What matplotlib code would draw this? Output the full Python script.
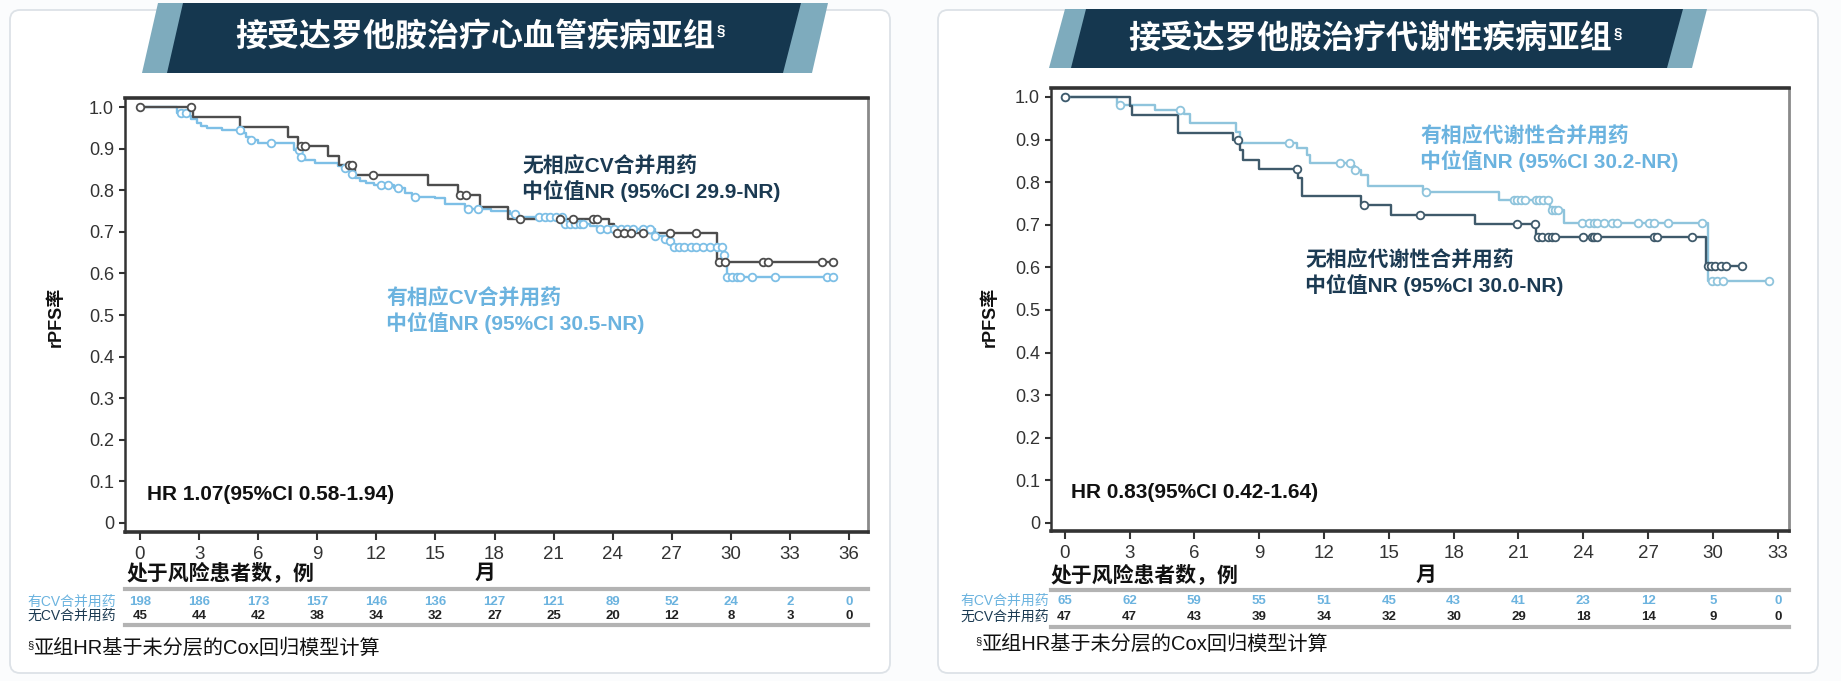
import numpy as np
import matplotlib
matplotlib.use("Agg")
import matplotlib.pyplot as plt
from matplotlib.patches import FancyBboxPatch, Polygon
from matplotlib.transforms import blended_transform_factory

plt.rcParams['font.family'] = ['Liberation Sans', 'Noto Sans CJK SC', 'DejaVu Sans']

# ---------- 数据: 心血管疾病亚组 ----------
cv_yes_t = [0, 1.9, 2.45, 2.6, 2.9, 3.1, 3.4, 4.15, 5.15, 5.4, 5.6, 6.0, 7.8, 8.15, 8.4, 8.9,
            10.05, 10.25, 10.75, 10.9, 11.15, 11.45, 11.9, 12.9, 13.45, 13.8, 15.0, 15.5, 16.5,
            17.8, 18.8, 19.2, 21.5, 22.85, 23.2, 26.15, 26.65, 26.9, 27.0, 29.6, 29.7, 29.8]
cv_yes_s = [1.0, 0.987, 0.979, 0.971, 0.961, 0.955, 0.950, 0.946, 0.939, 0.929, 0.921, 0.914,
            0.898, 0.880, 0.873, 0.865, 0.859, 0.854, 0.840, 0.830, 0.822, 0.817, 0.813, 0.805,
            0.793, 0.785, 0.781, 0.768, 0.756, 0.750, 0.744, 0.735, 0.720, 0.714, 0.708, 0.690,
            0.684, 0.678, 0.664, 0.644, 0.632, 0.591]
cv_yes_cens = [2.1, 2.35, 5.1, 5.65, 6.65, 8.05, 8.2, 10.4, 10.75, 12.25, 12.6, 13.1, 13.95,
               16.65, 17.15, 19.05, 20.25, 20.55, 20.8, 21.1, 21.4, 21.6, 21.85, 22.1, 22.35,
               22.5, 23.35, 23.7, 24.05, 24.4, 24.7, 25.05, 25.55, 25.9, 26.15, 26.65, 26.9,
               27.1, 27.35, 27.6, 27.95, 28.25, 28.6, 28.95, 29.3, 29.55, 29.65, 29.8, 30.05,
               30.3, 30.45, 31.05, 32.25, 34.9, 35.2]

cv_no_t = [0, 2.7, 5.1, 7.5, 8.0, 9.55, 10.1, 10.9, 14.6, 16.15, 17.25, 18.7, 23.8, 24.05, 29.3]
cv_no_s = [1.0, 0.976, 0.952, 0.929, 0.906, 0.883, 0.860, 0.837, 0.812, 0.788, 0.760, 0.732,
           0.720, 0.698, 0.628]
cv_no_cens = [0, 2.6, 8.15, 8.4, 10.6, 10.75, 11.85, 16.25, 16.55, 19.3, 21.3, 22.0, 23.0,
              23.2, 24.2, 24.55, 24.95, 25.55, 26.9, 28.25, 29.4, 29.7, 31.65, 31.9, 34.6, 35.2]

cv_months = [0, 3, 6, 9, 12, 15, 18, 21, 24, 27, 30, 33, 36]
cv_risk_yes = [198, 186, 173, 157, 146, 136, 127, 121, 89, 52, 24, 2, 0]
cv_risk_no = [45, 44, 42, 38, 34, 32, 27, 25, 20, 12, 8, 3, 0]

# ---------- 数据: 代谢性疾病亚组 ----------
met_yes_t = [0, 2.4, 4.2, 5.5, 5.8, 7.95, 8.1, 10.75, 11.2, 11.35, 13.3, 13.45, 13.7, 14.05,
             16.6, 20.1, 22.45, 23.1, 29.75]
met_yes_s = [1.0, 0.982, 0.970, 0.961, 0.939, 0.917, 0.892, 0.880, 0.864, 0.845, 0.837, 0.829,
             0.817, 0.790, 0.776, 0.759, 0.735, 0.704, 0.568]
met_yes_cens = [0, 2.55, 5.35, 10.4, 12.75, 13.2, 13.45, 16.7, 20.8, 20.95, 21.1, 21.3, 21.8,
                21.95, 22.15, 22.35, 22.55, 22.7, 22.85, 23.95, 24.25, 24.5, 24.65, 24.95, 25.35,
                25.55, 26.55, 27.05, 27.25, 27.9, 29.5, 29.95, 30.2, 30.45, 32.6]

met_no_t = [0, 3.0, 3.1, 5.25, 7.8, 8.1, 8.25, 9.0, 10.8, 11.0, 13.7, 15.1, 19.0, 21.8, 29.7]
met_no_s = [1.0, 0.979, 0.957, 0.915, 0.900, 0.876, 0.853, 0.831, 0.810, 0.767, 0.747, 0.723,
            0.701, 0.672, 0.602]
met_no_cens = [0, 8.0, 10.75, 13.85, 16.45, 20.95, 21.75, 21.9, 22.1, 22.35, 22.55, 22.7, 24.0,
               24.4, 24.5, 24.65, 27.25, 27.4, 29.05, 29.75, 29.9, 30.1, 30.35, 30.6, 31.35]

met_months = [0, 3, 6, 9, 12, 15, 18, 21, 24, 27, 30, 33]
met_risk_yes = [65, 62, 59, 55, 51, 45, 43, 41, 23, 12, 5, 0]
met_risk_no = [47, 47, 43, 39, 34, 32, 30, 29, 18, 14, 9, 0]

y_ticks = [0, 0.1, 0.2, 0.3, 0.4, 0.5, 0.6, 0.7, 0.8, 0.9, 1.0]
y_labels = ['0', '0.1', '0.2', '0.3', '0.4', '0.5', '0.6', '0.7', '0.8', '0.9', '1.0']

# 颜色
NAVY = '#15374f'
STRIPE = '#7eabbd'
BLUE_TXT = '#6bb3df'
DARK_TXT = '#1b3a52'

W, H = 1841, 681
fig = plt.figure(figsize=(W / 100, H / 100), dpi=100)
fig.patch.set_facecolor('#fbfcfd')
bg = fig.add_axes([0, 0, 1, 1], zorder=0)
bg.set_xlim(0, W)
bg.set_ylim(H, 0)
bg.axis('off')
P = bg.transData
renderer = fig.canvas.get_renderer()


def card(x0, y0, x1, y1):
    bg.add_patch(FancyBboxPatch((x0, y0), x1 - x0, y1 - y0,
                                boxstyle='round,pad=0,rounding_size=10',
                                fc='white', ec='#dde2e7', lw=1.3))


def banner(light, dark, text, x_left, x_right, cy):
    bg.add_patch(Polygon(light, closed=True, fc=STRIPE, ec='none'))
    bg.add_patch(Polygon(dark, closed=True, fc=NAVY, ec='none'))
    t = bg.text((x_left + x_right) / 2, cy, text, color='white', fontsize=24,
                fontweight='bold', ha='center', va='center')
    # 按参考图的文字宽度调整字号
    bb = t.get_window_extent(renderer)
    t.set_fontsize(24 * (x_right - x_left) / bb.width)
    bb = t.get_window_extent(renderer)
    x1, y1 = P.inverted().transform((bb.x1, bb.y1))
    bg.text(x1 + 2, y1 + 9, '§', color='white', fontsize=11, fontweight='bold',
            ha='left', va='center')


def add_ax(x0, y0, x1, y1):
    return fig.add_axes([x0 / W, 1 - y1 / H, (x1 - x0) / W, (y1 - y0) / H], zorder=1)


def km(ax, t, s, cens, color, t_end):
    tt = list(t) + [t_end]
    ss = list(s) + [s[-1]]
    ax.step(tt, ss, where='post', color=color, lw=1.7, zorder=3)
    idx = np.searchsorted(t, cens, side='right') - 1
    ax.plot(cens, np.array(s)[idx], 'o', ms=5.5, mfc='white', mec=color, mew=1.3, zorder=4)


def style_ax(ax, xlim, ylim, months):
    ax.set_xlim(*xlim)
    ax.set_ylim(*ylim)
    ax.set_xticks(months)
    ax.set_xticklabels([str(m) for m in months])
    ax.set_yticks(y_ticks)
    ax.set_yticklabels(y_labels)
    ax.tick_params(axis='x', direction='out', length=6, width=1.5, colors='#333333',
                   labelsize=13.5, pad=4)
    ax.tick_params(axis='y', direction='out', length=4, width=1.5, colors='#333333',
                   labelsize=13, pad=4)
    for side in ['top', 'bottom']:
        ax.spines[side].set_linewidth(2.6)
        ax.spines[side].set_color('#333333')
    ax.spines['left'].set_linewidth(1.8)
    ax.spines['left'].set_color('#333333')
    ax.spines['right'].set_linewidth(2)
    ax.spines['right'].set_color('#8a8a8a')


def risk_table(ax, months, r_yes, r_no, y_lines, y_rows, label_x):
    lt = blended_transform_factory(ax.transAxes, P)
    for yl in y_lines:
        ax.plot([0, 1], [yl, yl], transform=lt, color='#b3b3b3', lw=3, clip_on=False)
    nt = blended_transform_factory(ax.transData, P)
    for m, a, b in zip(months, r_yes, r_no):
        ax.text(m, y_rows[0], str(a), transform=nt, ha='center', va='center',
                fontsize=9.5, fontweight='bold', color=BLUE_TXT, clip_on=False)
        ax.text(m, y_rows[1], str(b), transform=nt, ha='center', va='center',
                fontsize=9.5, fontweight='bold', color='#222222', clip_on=False)
    bg.text(label_x, y_rows[0], '有CV合并用药', ha='right', va='center',
            fontsize=10, color=BLUE_TXT)
    bg.text(label_x, y_rows[1], '无CV合并用药', ha='right', va='center',
            fontsize=10, color=DARK_TXT)


# ---------- 卡片与标题 ----------
card(10, 10, 890, 673)
card(938, 10, 1818, 673)

banner([(142, 73), (158, 3), (828, 3), (812, 73)],
       [(167, 73), (183, 3), (801, 3), (783, 73)],
       '接受达罗他胺治疗心血管疾病亚组', 235, 715, 37)
banner([(1049, 68), (1065, 9), (1707, 9), (1692, 68)],
       [(1071, 68), (1086, 9), (1683, 9), (1667, 68)],
       '接受达罗他胺治疗代谢性疾病亚组', 1128, 1612, 40)

# ---------- 左图 ----------
ax1 = add_ax(125, 98, 868, 532)
style_ax(ax1, (-0.76, 36.96), (-0.022, 1.022), cv_months)
km(ax1, cv_yes_t, cv_yes_s, cv_yes_cens, '#7dbfe6', 35.2)
km(ax1, cv_no_t, cv_no_s, cv_no_cens, '#4d4d4d', 35.2)

ax1.text(522, 166, '无相应CV合并用药', transform=P, fontsize=15, fontweight='bold',
         color=DARK_TXT, ha='left', va='center')
ax1.text(522, 191, '中位值NR (95%CI 29.9-NR)', transform=P, fontsize=15, fontweight='bold',
         color=DARK_TXT, ha='left', va='center')
ax1.text(386, 298, '有相应CV合并用药', transform=P, fontsize=15, fontweight='bold',
         color=BLUE_TXT, ha='left', va='center')
ax1.text(386, 323, '中位值NR (95%CI 30.5-NR)', transform=P, fontsize=15, fontweight='bold',
         color=BLUE_TXT, ha='left', va='center')
ax1.text(147, 495, 'HR 1.07(95%CI 0.58-1.94)', transform=P, fontsize=15, fontweight='bold',
         color='#111111', ha='left', va='center')

bg.text(56, 317, 'rPFS率', rotation=90, fontsize=13, fontweight='bold',
        ha='center', va='center', color='#111111')
bg.text(126, 573, '处于风险患者数，例', fontsize=15, fontweight='bold',
        ha='left', va='center', color='#111111')
bg.text(485, 573, '月', fontsize=15, fontweight='bold', ha='center', va='center',
        color='#111111')
risk_table(ax1, cv_months, cv_risk_yes, cv_risk_no, (589, 625), (602, 616), 116)
bg.text(27, 645, '§', fontsize=8, ha='left', va='center', color='#111111')
bg.text(33, 648, '亚组HR基于未分层的Cox回归模型计算', fontsize=14.5,
        ha='left', va='center', color='#111111')

# ---------- 右图 ----------
ax2 = add_ax(1051, 88, 1789, 531)
style_ax(ax2, (-0.634, 33.52), (-0.019, 1.021), met_months)
km(ax2, met_yes_t, met_yes_s, met_yes_cens, '#8fc4dc', 32.6)
km(ax2, met_no_t, met_no_s, met_no_cens, '#3f5a6b', 31.35)

ax2.text(1420, 136, '有相应代谢性合并用药', transform=P, fontsize=15, fontweight='bold',
         color=BLUE_TXT, ha='left', va='center')
ax2.text(1420, 161, '中位值NR (95%CI 30.2-NR)', transform=P, fontsize=15, fontweight='bold',
         color=BLUE_TXT, ha='left', va='center')
ax2.text(1305, 260, '无相应代谢性合并用药', transform=P, fontsize=15, fontweight='bold',
         color=DARK_TXT, ha='left', va='center')
ax2.text(1305, 285, '中位值NR (95%CI 30.0-NR)', transform=P, fontsize=15, fontweight='bold',
         color=DARK_TXT, ha='left', va='center')
ax2.text(1071, 493, 'HR 0.83(95%CI 0.42-1.64)', transform=P, fontsize=15, fontweight='bold',
         color='#111111', ha='left', va='center')

bg.text(990, 317, 'rPFS率', rotation=90, fontsize=13, fontweight='bold',
        ha='center', va='center', color='#111111')
bg.text(1050, 575, '处于风险患者数，例', fontsize=15, fontweight='bold',
        ha='left', va='center', color='#111111')
bg.text(1426, 575, '月', fontsize=15, fontweight='bold', ha='center', va='center',
        color='#111111')
risk_table(ax2, met_months, met_risk_yes, met_risk_no, (590, 627), (601, 617), 1049)
bg.text(975, 641, '§', fontsize=8, ha='left', va='center', color='#111111')
bg.text(981, 644, '亚组HR基于未分层的Cox回归模型计算', fontsize=14.5,
        ha='left', va='center', color='#111111')

fig.savefig('out.png', dpi=100)
